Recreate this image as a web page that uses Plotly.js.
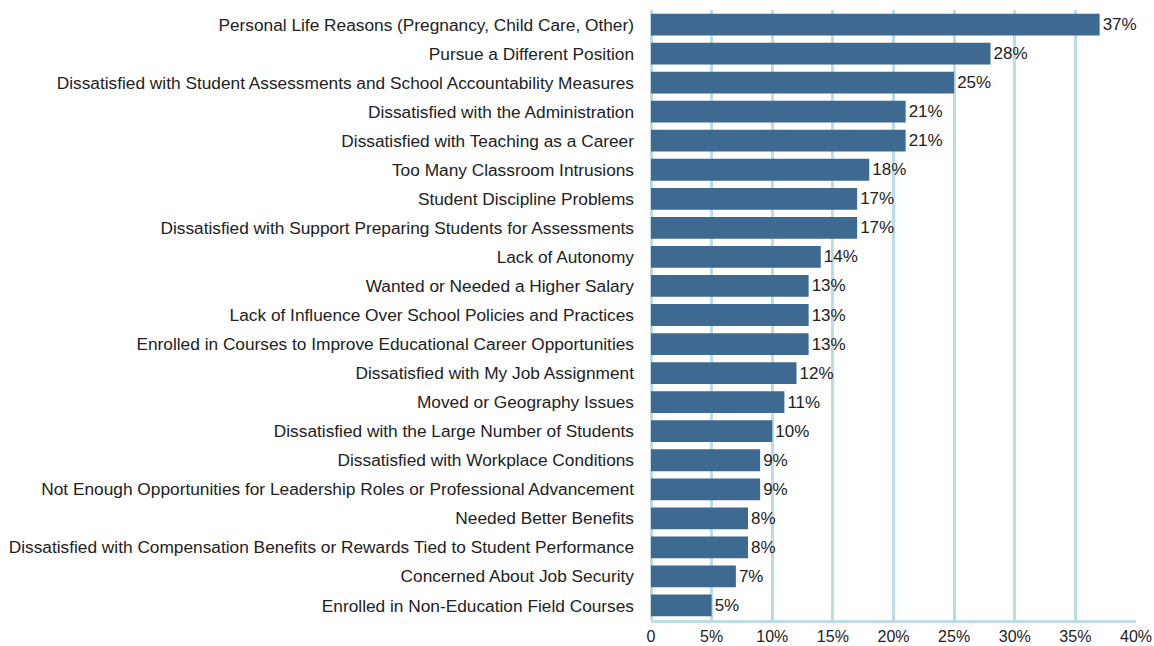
<!DOCTYPE html>
<html>
<head>
<meta charset="utf-8">
<script src="https://cdn.plot.ly/plotly-3.0.1.min.js"></script>
<style>html,body{margin:0;padding:0;background:#fff;}#chart{width:1154px;height:646px;}</style>
</head>
<body>
<div id="chart"></div>
<script>
const categories = [
  "Personal Life Reasons (Pregnancy, Child Care, Other)",
  "Pursue a Different Position",
  "Dissatisfied with Student Assessments and School Accountability Measures",
  "Dissatisfied with the Administration",
  "Dissatisfied with Teaching as a Career",
  "Too Many Classroom Intrusions",
  "Student Discipline Problems",
  "Dissatisfied with Support Preparing Students for Assessments",
  "Lack of Autonomy",
  "Wanted or Needed a Higher Salary",
  "Lack of Influence Over School Policies and Practices",
  "Enrolled in Courses to Improve Educational Career Opportunities",
  "Dissatisfied with My Job Assignment",
  "Moved or Geography Issues",
  "Dissatisfied with the Large Number of Students",
  "Dissatisfied with Workplace Conditions",
  "Not Enough Opportunities for Leadership Roles or Professional Advancement",
  "Needed Better Benefits",
  "Dissatisfied with Compensation Benefits or Rewards Tied to Student Performance",
  "Concerned About Job Security",
  "Enrolled in Non-Education Field Courses"
];
const values = [37, 28, 25, 21, 21, 18, 17, 17, 14, 13, 13, 13, 12, 11, 10, 9, 9, 8, 8, 7, 5];
const tickValues = [0, 5, 10, 15, 20, 25, 30, 35, 40];
const tickLabels = ["0", "5%", "10%", "15%", "20%", "25%", "30%", "35%", "40%"];

const font = "'Liberation Sans', Arial, sans-serif";
const grid = "#bcdde6";

Plotly.newPlot("chart", [{
  type: "bar",
  orientation: "h",
  y: categories,
  x: values,
  text: values.map(v => v + "%"),
  textposition: "outside",
  cliponaxis: false,
  textfont: {family: font, size: 17, color: "#222"},
  marker: {color: "#3e6990"},
  hoverinfo: "none"
}], {
  width: 1154, height: 646,
  margin: {l: 651, r: 18, t: 10, b: 26, pad: 0},
  paper_bgcolor: "#fff", plot_bgcolor: "#fff",
  bargap: 0.25,
  showlegend: false,
  font: {family: font, size: 17, color: "#222"},
  xaxis: {
    range: [0, 40],
    tickvals: tickValues, ticktext: tickLabels,
    showgrid: true, gridcolor: grid, gridwidth: 3,
    zeroline: true, zerolinecolor: grid, zerolinewidth: 3,
    showline: true, linecolor: grid, linewidth: 3,
    ticks: "", ticklen: 0,
    ticklabelstandoff: 0,
    tickfont: {family: font, size: 16, color: "#222"},
    fixedrange: true
  },
  yaxis: {
    autorange: "reversed",
    showgrid: false, zeroline: false, showline: false,
    ticks: "",
    ticklabelstandoff: 16,
    tickfont: {family: font, size: 17.3, color: "#222"},
    fixedrange: true
  }
}, {staticPlot: true});
</script>
</body>
</html>
